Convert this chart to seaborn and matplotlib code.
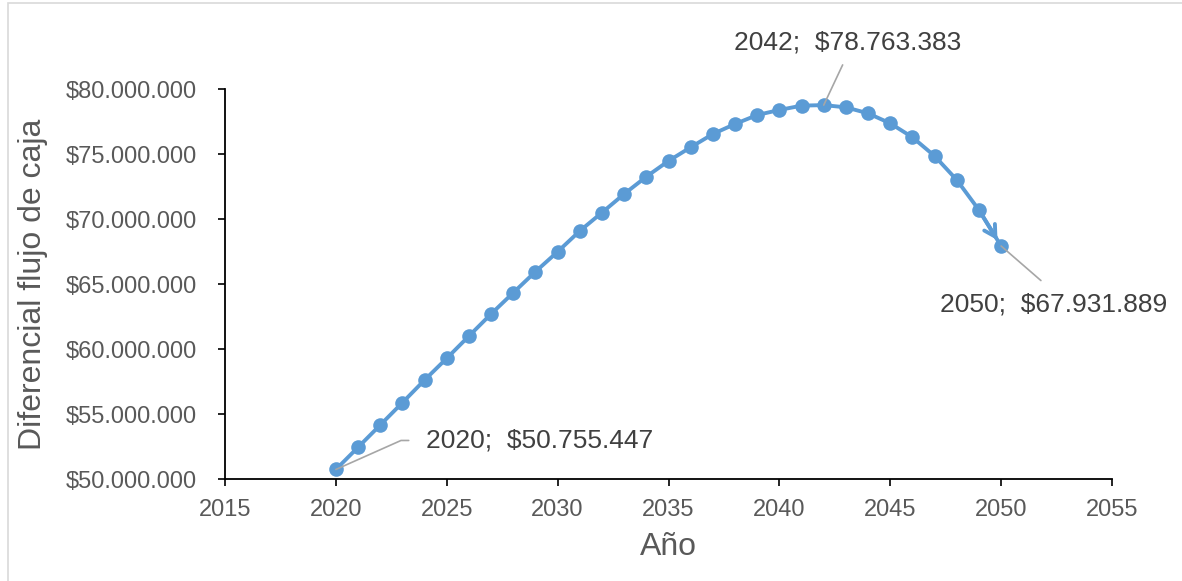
import numpy as np
import pandas as pd
import matplotlib
matplotlib.use('Agg')
import matplotlib.pyplot as plt
import matplotlib.ticker as mticker
from matplotlib.patches import Rectangle
import seaborn as sns

# datos (millones)
anios = list(range(2020, 2051))
flujo_mm = [50.755447, 52.46, 54.17, 55.89, 57.63, 59.30, 61.01, 62.71, 64.34, 65.96,
            67.49, 69.09, 70.50, 71.93, 73.26, 74.47, 75.52, 76.54, 77.31, 78.00,
            78.39, 78.72, 78.763383, 78.59, 78.13, 77.36, 76.29, 74.85, 73.01, 70.70,
            67.931889]
etiquetas_anios = [2020, 2042, 2050]
etiquetas_texto = ['2020;  $50.755.447', '2042;  $78.763.383', '2050;  $67.931.889']
x_ticks = list(range(2015, 2056, 5))
y_ticks = list(range(50_000_000, 80_000_001, 5_000_000))

df = pd.DataFrame({'Año': anios, 'Flujo': [v * 1e6 for v in flujo_mm]})

sns.set_style('ticks')
plt.rcParams['font.family'] = ['Liberation Sans', 'DejaVu Sans']

azul = '#5B9BD5'
gris_txt = '#595959'
gris_lbl = '#404040'
gris_linea = '#A6A6A6'

fig = plt.figure(figsize=(11.82, 5.81), dpi=100)
ax = fig.add_axes([225 / 1182, 1 - 479.3 / 581, (1112 - 225) / 1182, (479.3 - 89) / 581])

sns.lineplot(data=df, x='Año', y='Flujo', ax=ax, color=azul, linewidth=2.8,
             marker='o', markersize=10.5, markeredgewidth=0, markerfacecolor=azul)

# flecha al final de la serie
ax.annotate('', xy=(anios[-1], df['Flujo'].iloc[-1]), xytext=(anios[-2], df['Flujo'].iloc[-2]),
            arrowprops=dict(arrowstyle='->,head_length=0.8,head_width=0.45', color=azul,
                            lw=2.8, shrinkA=0, shrinkB=5))

ax.set_xlim(2015, 2055)
ax.set_ylim(50_000_000, 80_000_000)
ax.set_xticks(x_ticks)
ax.set_yticks(y_ticks)
ax.yaxis.set_major_formatter(mticker.FuncFormatter(lambda v, p: '$' + f'{int(v):,}'.replace(',', '.')))

ax.tick_params(axis='both', labelsize=17, labelcolor=gris_txt, color='black', length=5, width=1.2)
ax.tick_params(axis='y', pad=15)
ax.tick_params(axis='x', pad=9)
for s in ['top', 'right']:
    ax.spines[s].set_visible(False)
for s in ['left', 'bottom']:
    ax.spines[s].set_color('black')
    ax.spines[s].set_linewidth(1.3)
ax.spines['bottom'].set_zorder(0)

ax.set_xlabel('Año', fontsize=23, color=gris_txt, labelpad=8)
ax.set_ylabel('Diferencial flujo de caja', fontsize=23, color=gris_txt)
ax.yaxis.set_label_coords(-(225 - 48) / (1112 - 225), 0.5)

# etiquetas de datos con lineas guia
valores = dict(zip(anios, df['Flujo']))
ax.annotate(etiquetas_texto[0], xy=(etiquetas_anios[0], valores[etiquetas_anios[0]]),
            xytext=(90, 29), textcoords='offset pixels', ha='left', va='center',
            fontsize=19, color=gris_lbl, annotation_clip=False,
            arrowprops=dict(arrowstyle='-', color=gris_linea, lw=1.2, relpos=(0, 0.5),
                            shrinkA=10, shrinkB=0,
                            connectionstyle='angle,angleA=0,angleB=24,rad=0'))
ax.annotate(etiquetas_texto[1], xy=(etiquetas_anios[1], valores[etiquetas_anios[1]]),
            xytext=(24, 63), textcoords='offset pixels', ha='center', va='center',
            fontsize=19, color=gris_lbl, annotation_clip=False,
            arrowprops=dict(arrowstyle='-', color=gris_linea, lw=1.2, relpos=(0.5, 0),
                            shrinkA=6, shrinkB=0))
ax.annotate(etiquetas_texto[2], xy=(etiquetas_anios[2], valores[etiquetas_anios[2]]),
            xytext=(53, -58), textcoords='offset pixels', ha='center', va='center',
            fontsize=19, color=gris_lbl, annotation_clip=False,
            arrowprops=dict(arrowstyle='-', color=gris_linea, lw=1.2, relpos=(0.5, 1),
                            shrinkA=9, shrinkB=0))

# borde del area del grafico
fig.patches.append(Rectangle((8 / 1182, -0.01), 1.1, 1 - 3 / 581 + 0.01, transform=fig.transFigure,
                             fill=False, edgecolor='#D9D9D9', lw=1.2, figure=fig))

fig.savefig('out.png', dpi=100)
